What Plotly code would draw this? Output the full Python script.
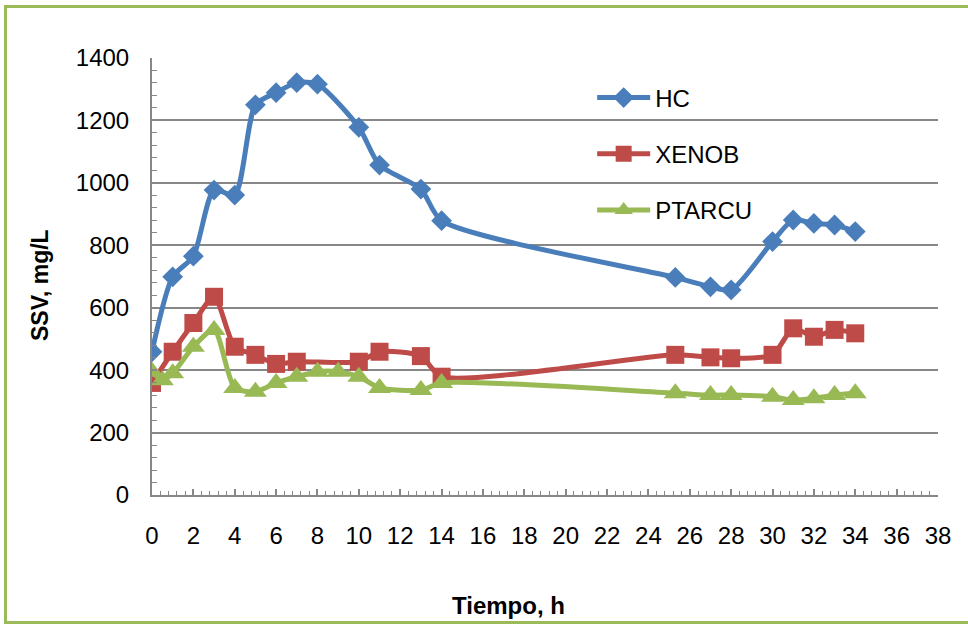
import plotly.graph_objects as go

# Data
hc_t = [0, 1, 2, 3, 4, 5, 6, 7, 8, 10, 11, 13, 14, 25.3, 27, 28, 30, 31, 32, 33, 34]
hc_v = [459, 699, 765, 977, 961, 1250, 1289, 1321, 1316, 1178, 1057, 980, 879, 697, 667, 657, 812, 881, 870, 865, 844]

xen_t = [0, 1, 2, 3, 4, 5, 6, 7, 10, 11, 13, 14, 25.3, 27, 28, 30, 31, 32, 33, 34]
xen_v = [359, 459, 551, 635, 475, 449, 420, 427, 427, 459, 445, 379, 449, 441, 438, 449, 534, 507, 529, 518]

pta_t = [0, 0.5, 1, 2, 3, 4, 5, 6, 7, 8, 9, 10, 11, 13, 14, 25.3, 27, 28, 30, 31, 32, 33, 34]
pta_v = [395, 368, 390, 475, 529, 343, 331, 359, 379, 395, 395, 379, 343, 336, 359, 326, 320, 320, 315, 304, 310, 320, 326]

x_ticks = list(range(0, 40, 2))
y_ticks = list(range(0, 1600, 200))

FONT = "Liberation Sans, Arial, sans-serif"
GRAY = "#878787"

fig = go.Figure()
fig.add_trace(go.Scatter(x=hc_t, y=hc_v, name="HC", mode="lines+markers",
                         line=dict(color="#4A7EBB", width=5, shape="spline", smoothing=0.7),
                         marker=dict(symbol="diamond", size=16, color="#4A7EBB"),
                         legendgroup="a"))
fig.add_trace(go.Scatter(x=xen_t, y=xen_v, name="XENOB", mode="lines+markers",
                         line=dict(color="#BE4B48", width=5, shape="spline", smoothing=0.7),
                         marker=dict(symbol="square", size=18, color="#BE4B48"),
                         legendgroup="b"))
fig.add_trace(go.Scatter(x=pta_t, y=pta_v, name="PTARCU", mode="lines+markers",
                         line=dict(color="#98B954", width=5, shape="spline", smoothing=0.7),
                         marker=dict(symbol="triangle-up", size=20, color="#98B954"),
                         legendgroup="c"))

fig.update_layout(
    width=968, height=624,
    margin=dict(l=152, r=30, t=58, b=129),
    paper_bgcolor="white", plot_bgcolor="white",
    font=dict(family=FONT, size=24, color="black"),
    showlegend=True,
    legend=dict(x=0.56, y=0.96, xanchor="left", yanchor="top",
                bgcolor="rgba(0,0,0,0)", font=dict(size=24),
                tracegroupgap=22, itemwidth=53, traceorder="grouped"),
    xaxis=dict(range=[0, 38], tickvals=x_ticks, ticktext=[str(v) for v in x_ticks],
               showgrid=False, zeroline=False, showline=True, linecolor=GRAY, linewidth=2,
               ticks="inside", ticklen=6, tickcolor=GRAY, tickwidth=1.5,
               minor=dict(dtick=0.4, tick0=0, ticks="inside", ticklen=4, tickcolor=GRAY, tickwidth=1.2),
               ticklabelstandoff=18, tickfont=dict(size=24)),
    yaxis=dict(range=[0, 1400], tickvals=y_ticks, ticktext=[str(v) for v in y_ticks],
               showgrid=True, gridcolor=GRAY, gridwidth=1.6, zeroline=False,
               showline=True, linecolor=GRAY, linewidth=2,
               ticks="inside", ticklen=5, tickcolor=GRAY, tickwidth=1.5,
               minor=dict(dtick=40, tick0=0, ticks="inside", ticklen=5, tickcolor=GRAY, tickwidth=1.2),
               ticklabelstandoff=16, tickfont=dict(size=24)),
    annotations=[
        dict(text="<b>Tiempo, h</b>", xref="paper", yref="paper", x=0.453, y=-0.254,
             xanchor="center", yanchor="middle", showarrow=False, font=dict(size=24)),
        dict(text="<b>SSV, mg/L</b>", xref="paper", yref="paper", x=-0.1425, y=0.4805,
             xanchor="center", yanchor="middle", showarrow=False, textangle=-90, font=dict(size=23)),
    ],
    shapes=[
        dict(type="rect", xref="paper", yref="paper",
             x0=(5.5 - 152) / 786, x1=(985 - 152) / 786,
             y0=(495 - 622.5) / 437, y1=(495 - 6.5) / 437,
             line=dict(color="#9BBB59", width=3), fillcolor="rgba(0,0,0,0)", layer="below"),
    ],
)

fig.write_html("out.html", config={"displayModeBar": False},
               post_script="document.body.style.margin='0';")
